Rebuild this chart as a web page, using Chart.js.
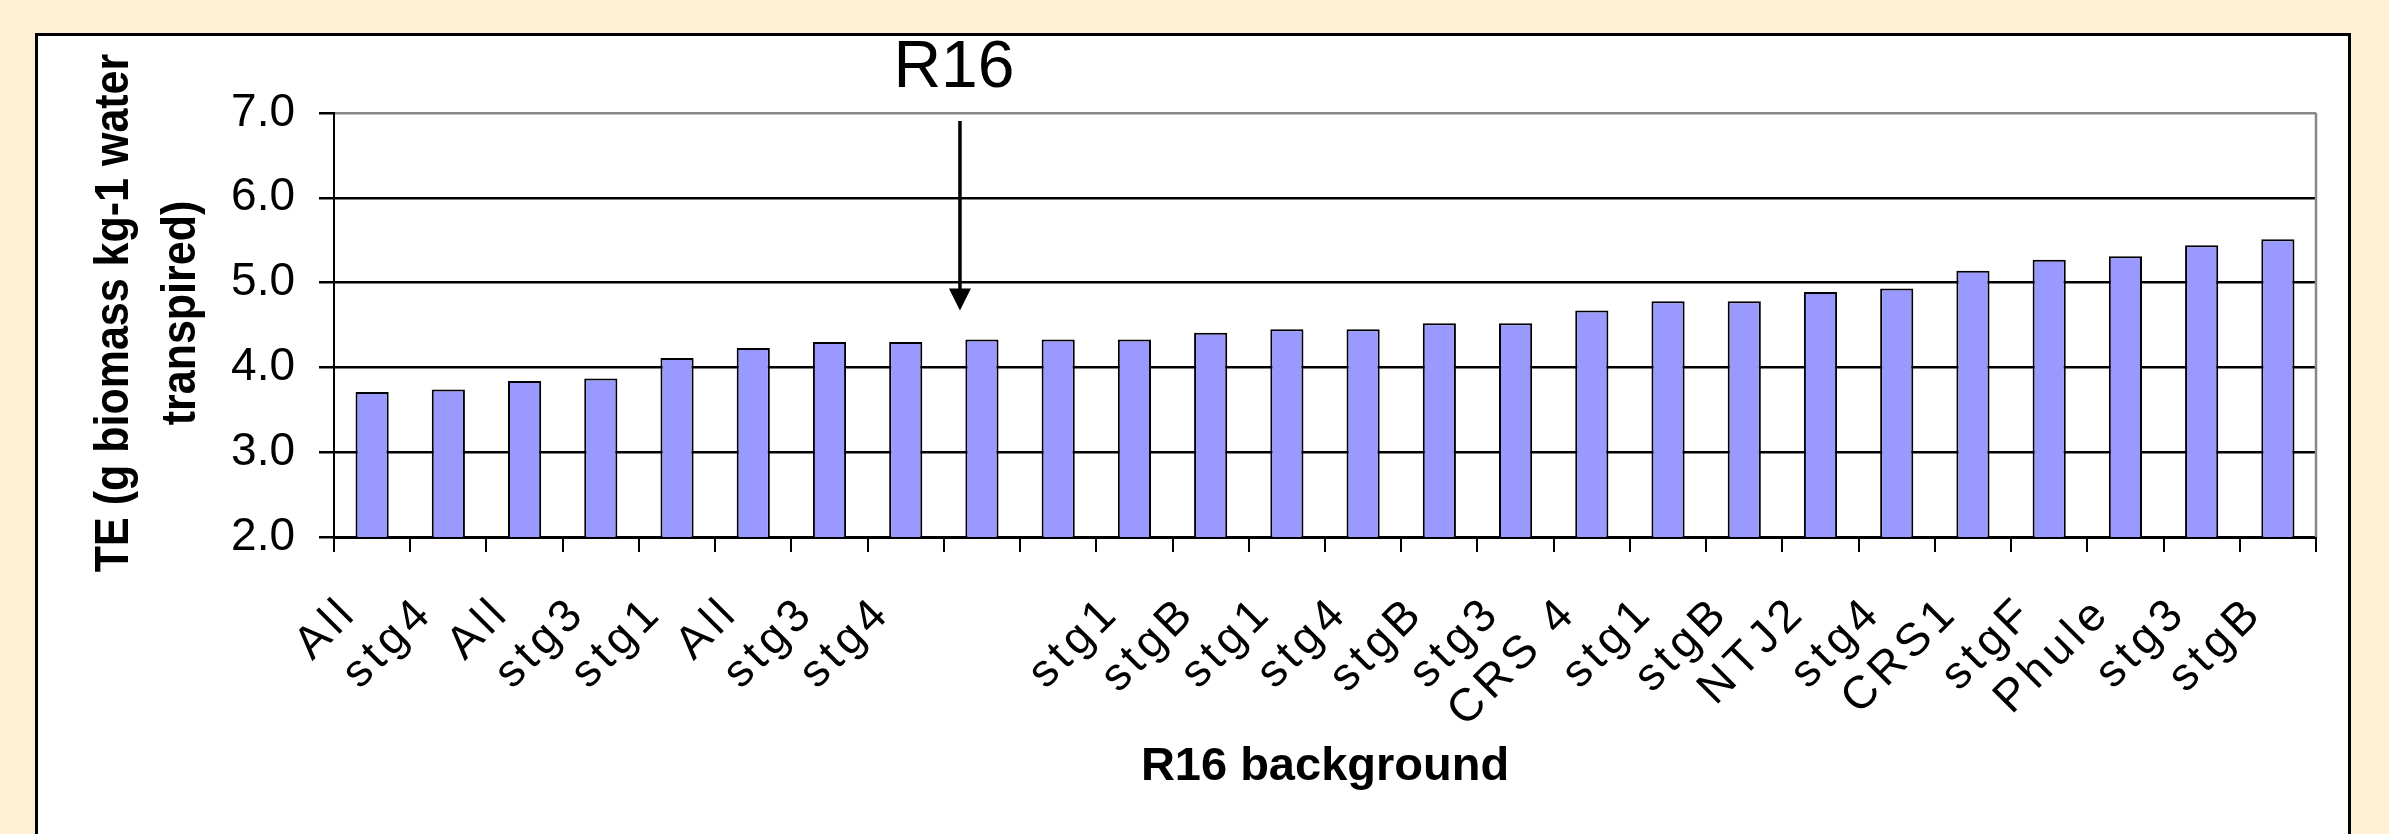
<!DOCTYPE html>
<html>
<head>
<meta charset="utf-8">
<script src="https://cdn.jsdelivr.net/npm/chart.js@4.4.1/dist/chart.umd.min.js"></script>
<style>
  html, body { margin: 0; padding: 0; background: #FFEFD5; overflow: hidden; width: 2389px; height: 834px; }
  #frame { position: absolute; left: 35px; top: 33px; width: 2310px; height: 900px; background: #ffffff; border: 3px solid #000; }
  #wrap { position: absolute; left: 0; top: 0; width: 2389px; height: 834px; }
</style>
</head>
<body>
<div id="frame"></div>
<div id="wrap"><canvas id="c" width="2389" height="834"></canvas></div>
<script>
// ---- data ----
const categories = ['All', 'stg4', 'All', 'stg3', 'stg1', 'All', 'stg3', 'stg4', '', '',
  'stg1', 'stgB', 'stg1', 'stg4', 'stgB', 'stg3', 'CRS 4', 'stg1', 'stgB', 'NTJ2',
  'stg4', 'CRS1', 'stgF', 'Phule', 'stg3', 'stgB'];
const teValues = [3.71, 3.74, 3.84, 3.87, 4.11, 4.23, 4.30, 4.30, 4.33, 4.33,
  4.33, 4.41, 4.45, 4.45, 4.52, 4.52, 4.67, 4.78, 4.78, 4.89,
  4.93, 5.14, 5.27, 5.31, 5.44, 5.51];
const yMin = 2.0;
const yMax = 7.0;
const yStep = 1.0;
const yAxisTitle = ['TE (g biomass kg-1 water', 'transpired)'];
const xAxisTitle = 'R16 background';
const markerLabel = 'R16';
const markerIndex = 8;

const FONT = '"Liberation Sans", Arial, Helvetica, sans-serif';

const markerPlugin = {
  id: 'marker',
  afterDraw(chart) {
    const { ctx, chartArea, scales } = chart;
    const xs = scales.x, ys = scales.y;
    ctx.save();
    // grey plot-area border on the right
    ctx.strokeStyle = '#888888';
    ctx.lineWidth = 2.5;
    ctx.beginPath();
    ctx.moveTo(chartArea.right, chartArea.top);
    ctx.lineTo(chartArea.right, chartArea.bottom);
    ctx.stroke();
    // R16 label and arrow
    const cx = xs.getPixelForValue(markerIndex) - 22;
    ctx.fillStyle = '#000';
    ctx.font = '66px ' + FONT;
    ctx.textAlign = 'center';
    ctx.textBaseline = 'alphabetic';
    ctx.fillText(markerLabel, cx - 6, chartArea.top - 26);
    const tip = ys.getPixelForValue(teValues[markerIndex]) - 29;
    ctx.strokeStyle = '#000';
    ctx.lineWidth = 3.5;
    ctx.beginPath();
    ctx.moveTo(cx, chartArea.top + 8);
    ctx.lineTo(cx, tip - 18);
    ctx.stroke();
    ctx.beginPath();
    ctx.moveTo(cx - 11, tip - 22);
    ctx.lineTo(cx + 11, tip - 22);
    ctx.lineTo(cx, tip);
    ctx.closePath();
    ctx.fill();
    ctx.restore();
  },
  afterLayout(chart) {
    const xs = chart.scales.x;
    const ys = chart.scales.y;
    if (!xs._lsWrapped) {
      const orig = xs.drawLabels.bind(xs);
      xs.drawLabels = function (area) {
        const ctx = chart.ctx;
        ctx.save();
        if ('letterSpacing' in ctx) ctx.letterSpacing = '5px';
        orig(area);
        ctx.restore();
      };
      xs._lsWrapped = true;
    }
    if (!ys._tWrapped) {
      const origT = ys.drawTitle.bind(ys);
      ys.drawTitle = function () {
        const ctx = chart.ctx;
        const cx = ys.left + 108;
        ctx.save();
        ctx.translate(cx, -12);
        ctx.scale(1.12, 1);
        ctx.translate(-cx, 0);
        origT();
        ctx.restore();
      };
      ys._tWrapped = true;
    }
  }
};

new Chart(document.getElementById('c'), {
  type: 'bar',
  data: {
    labels: categories,
    datasets: [{
      data: teValues,
      backgroundColor: '#9999FF',
      borderColor: '#000000',
      borderWidth: 2,
      barPercentage: 0.435,
      categoryPercentage: 1.0
    }]
  },
  options: {
    responsive: false,
    animation: false,
    devicePixelRatio: 1,
    layout: { padding: { left: 40, top: 113, right: 73, bottom: 0 } },
    plugins: { legend: { display: false }, tooltip: { enabled: false } },
    scales: {
      x: {
        offset: true,
        grid: { display: true, drawOnChartArea: false, offset: true, tickLength: 15, color: '#000', lineWidth: 2 },
        border: { display: true, color: '#000', width: 3 },
        ticks: {
          autoSkip: false, maxRotation: 45, minRotation: 45,
          padding: 34, labelOffset: -22, color: '#000',
          font: { family: FONT, size: 46 }
        },
        title: {
          display: true, text: xAxisTitle, color: '#000',
          font: { family: FONT, size: 47, weight: 'bold' },
          padding: { top: 0, bottom: 39 }
        },
        afterFit(s) { s.height = 834 - 537; }
      },
      y: {
        min: yMin, max: yMax,
        ticks: {
          stepSize: yStep, padding: 24, color: '#000',
          font: { family: FONT, size: 46 },
          callback: v => Number(v).toFixed(1)
        },
        grid: {
          color: c => (c.tick && c.tick.value === yMax) ? '#888888' : '#000000',
          tickColor: '#000', lineWidth: 2.5, tickLength: 15
        },
        border: { display: true, color: '#000', width: 2 },
        title: {
          display: true, text: yAxisTitle, color: '#000',
          font: { family: FONT, size: 43, weight: 'bold', lineHeight: 1.39 },
          padding: { top: 48.5, bottom: 0 }
        },
        afterFit(s) { s.width = 334 - 40; }
      }
    }
  },
  plugins: [markerPlugin]
});
</script>
</body>
</html>
